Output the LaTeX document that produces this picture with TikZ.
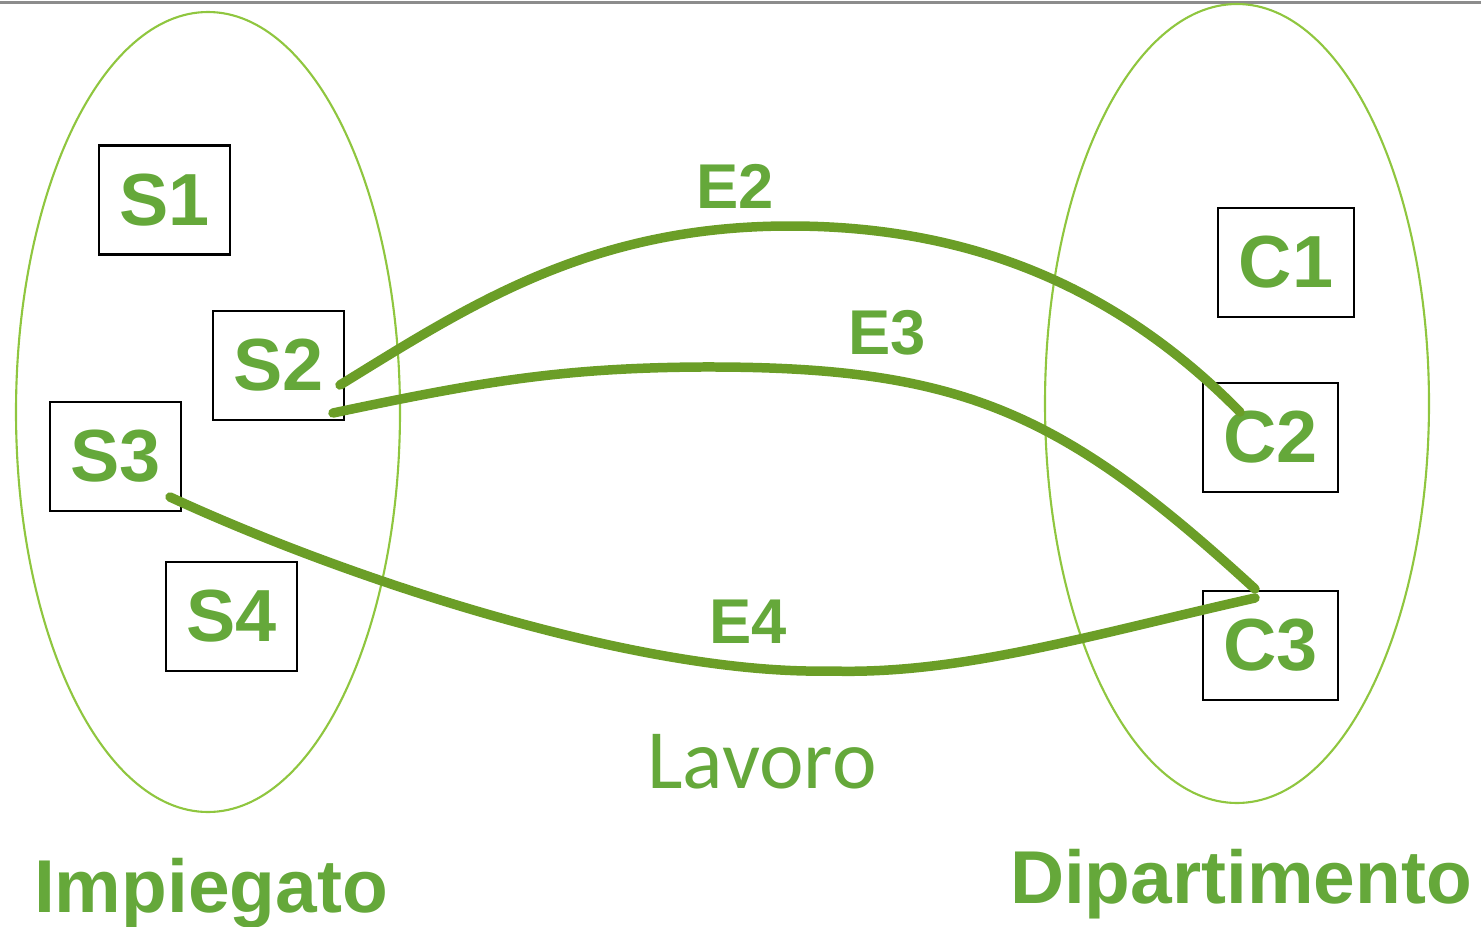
\documentclass[tikz,border=0pt]{standalone}
\usepackage{fontspec}
\setmainfont{Liberation Sans}
\newfontfamily\calib{Carlito}
\definecolor{txtgreen}{HTML}{65A83A}
\definecolor{curvegreen}{HTML}{6B9E27}
\definecolor{ellgreen}{HTML}{8FC63F}
\definecolor{topgray}{HTML}{8C8C8C}
\begin{document}
\begin{tikzpicture}[x=0.01cm,y=-0.01cm,
  ent/.style={draw=ellgreen,line width=0.6pt},
  elem/.style={draw=black,line width=0.75pt,rectangle,minimum height=1.09cm,inner sep=0pt,
    text=txtgreen,font=\fontsize{21}{21}\selectfont\bfseries},
  rel/.style={draw=curvegreen,line width=2.7pt,line cap=round},
  rlab/.style={text=txtgreen,font=\fontsize{18}{18}\selectfont\bfseries,inner sep=0pt},
  setlab/.style={text=txtgreen,font=\fontsize{21.3}{21.3}\selectfont\bfseries,inner sep=0pt,anchor=base}]
\useasboundingbox (0,0) rectangle (1481,927);
\draw[topgray,line width=0.6pt] (0,2.5) -- (1481,2.5);
% entity sets
\draw[ent] (208,412) ellipse [x radius=192,y radius=400];
\draw[ent] (1237,403.5) ellipse [x radius=192,y radius=399.5];
% elements
\node[elem,minimum width=1.31cm] (S1) at (164.5,200) {S1};
\node[elem,minimum width=1.31cm] (S2) at (278.5,365.5) {S2};
\node[elem,minimum width=1.31cm] (S3) at (115.5,456.5) {S3};
\node[elem,minimum width=1.31cm] (S4) at (231.5,616.5) {S4};
\node[elem,minimum width=1.36cm] (C1) at (1286,262.5) {C1};
\node[elem,minimum width=1.35cm] (C2) at (1270.5,437.5) {C2};
\node[elem,minimum width=1.35cm] (C3) at (1270.5,645.5) {C3};
% connector ends
\coordinate (e2s) at (340,385);
\coordinate (e2e) at (1240,412);
\coordinate (e3s) at (333,413);
\coordinate (e3e) at (1255,589);
\coordinate (e4s) at (170,497);
\coordinate (e4e) at (1255,598);
\coordinate (e2m) at (790,226);
\coordinate (e3m) at (700,367);
\coordinate (e4m) at (830,671);
% relationships
\draw[rel] (e2s) .. controls (470,305) and (590,226) .. (e2m)
  .. controls (960,226) and (1110,280) .. (e2e);
\draw[rel] (e3s) .. controls (480,382) and (560,368) .. (e3m)
  .. controls (960,366) and (1060,410) .. (e3e);
\draw[rel] (e4s) .. controls (350,580) and (640,675) .. (e4m)
  .. controls (960,675) and (1090,635) .. (e4e);
% labels
\node[rlab] (E2) at (735,186) {E2};
\node[rlab] (E3) at (887,333) {E3};
\node[rlab] (E4) at (748,622) {E4};
\node[text=txtgreen,font=\calib\fontsize{24}{24}\selectfont,inner sep=0pt,anchor=base] (lav) at (762,788) {Lavoro};
\node[setlab] (imp) at (211,912) {Impiegato};
\node[setlab] (dip) at (1241,903) {Dipartimento};
\end{tikzpicture}
\end{document}
